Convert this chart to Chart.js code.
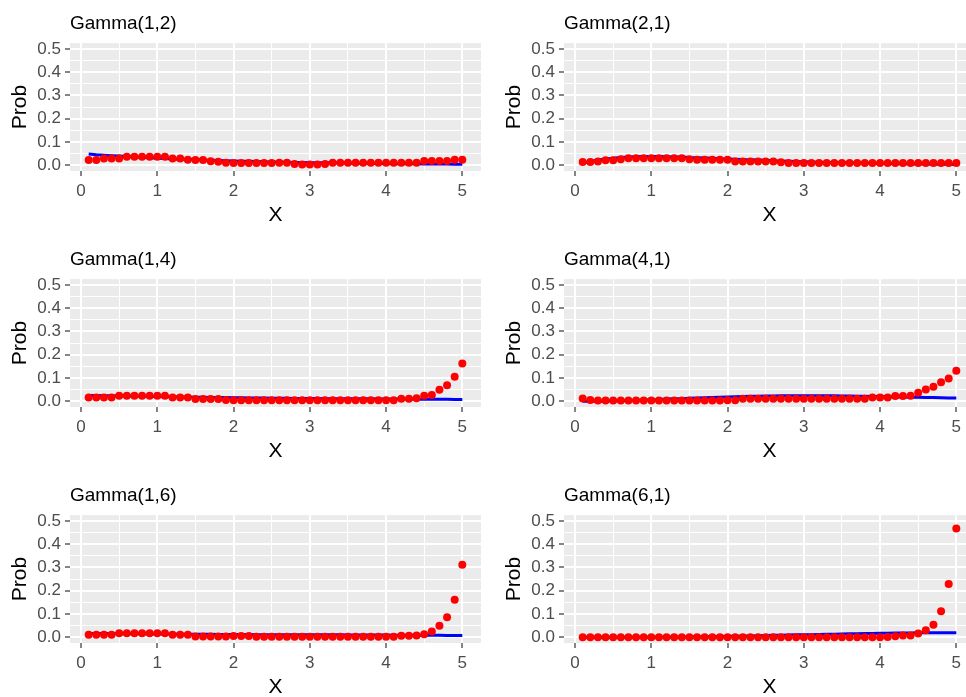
<!DOCTYPE html>
<html>
<head>
<meta charset="utf-8">
<script src="https://cdn.jsdelivr.net/npm/chart.js@4.4.1/dist/chart.umd.min.js"></script>
<style>
html, body { margin: 0; padding: 0; background: #fff; width: 966px; height: 697px; overflow: hidden; }
canvas { position: absolute; }
</style>
</head>
<body>
<canvas id="p1" width="485" height="236" style="left:0px;top:0px"></canvas>
<canvas id="p2" width="485" height="236" style="left:494px;top:0px"></canvas>
<canvas id="p3" width="485" height="236" style="left:0px;top:236px"></canvas>
<canvas id="p4" width="485" height="236" style="left:494px;top:236px"></canvas>
<canvas id="p5" width="485" height="236" style="left:0px;top:472px"></canvas>
<canvas id="p6" width="485" height="236" style="left:494px;top:472px"></canvas>
<script>
// x positions of the estimates
const xValues = [0.1, 0.2, 0.3, 0.4, 0.5, 0.6, 0.7, 0.8, 0.9, 1.0,
                 1.1, 1.2, 1.3, 1.4, 1.5, 1.6, 1.7, 1.8, 1.9, 2.0,
                 2.1, 2.2, 2.3, 2.4, 2.5, 2.6, 2.7, 2.8, 2.9, 3.0,
                 3.1, 3.2, 3.3, 3.4, 3.5, 3.6, 3.7, 3.8, 3.9, 4.0,
                 4.1, 4.2, 4.3, 4.4, 4.5, 4.6, 4.7, 4.8, 4.9, 5.0];

const xTicks = [0, 0.5, 1, 1.5, 2, 2.5, 3, 3.5, 4, 4.5, 5];
const yTicks = [0, 0.05, 0.1, 0.15, 0.2, 0.25, 0.3, 0.35, 0.4, 0.45, 0.5];

const titles = ['Gamma(1,2)', 'Gamma(2,1)', 'Gamma(1,4)', 'Gamma(4,1)', 'Gamma(1,6)', 'Gamma(6,1)'];

// red points
const probG12 = [0.022, 0.022, 0.029, 0.029, 0.029, 0.036, 0.036, 0.036, 0.036, 0.036,
                 0.036, 0.029, 0.029, 0.023, 0.022, 0.022, 0.017, 0.015, 0.010, 0.009,
                 0.009, 0.009, 0.009, 0.009, 0.009, 0.010, 0.010, 0.005, 0.003, 0.003,
                 0.003, 0.005, 0.011, 0.011, 0.011, 0.011, 0.011, 0.011, 0.011, 0.011,
                 0.011, 0.011, 0.011, 0.011, 0.018, 0.018, 0.018, 0.018, 0.023, 0.023];
const probG21 = [0.014, 0.014, 0.016, 0.021, 0.021, 0.026, 0.030, 0.030, 0.030, 0.030,
                 0.030, 0.030, 0.030, 0.030, 0.026, 0.023, 0.023, 0.023, 0.023, 0.023,
                 0.016, 0.016, 0.016, 0.016, 0.016, 0.016, 0.013, 0.009, 0.009, 0.009,
                 0.009, 0.009, 0.009, 0.009, 0.009, 0.009, 0.009, 0.009, 0.009, 0.009,
                 0.009, 0.009, 0.009, 0.009, 0.009, 0.009, 0.009, 0.009, 0.009, 0.009];
const probG14 = [0.016, 0.016, 0.016, 0.016, 0.023, 0.023, 0.023, 0.023, 0.023, 0.023,
                 0.023, 0.016, 0.016, 0.016, 0.009, 0.009, 0.009, 0.009, 0.005, 0.004,
                 0.004, 0.004, 0.004, 0.004, 0.004, 0.004, 0.004, 0.004, 0.004, 0.004,
                 0.004, 0.004, 0.004, 0.004, 0.004, 0.004, 0.004, 0.004, 0.004, 0.004,
                 0.004, 0.010, 0.011, 0.013, 0.023, 0.027, 0.049, 0.069, 0.105, 0.162];
const probG41 = [0.012, 0.005, 0.003, 0.003, 0.003, 0.003, 0.003, 0.003, 0.003, 0.003,
                 0.003, 0.003, 0.003, 0.003, 0.003, 0.003, 0.003, 0.003, 0.003, 0.004,
                 0.004, 0.010, 0.010, 0.010, 0.010, 0.010, 0.010, 0.010, 0.010, 0.010,
                 0.010, 0.010, 0.010, 0.010, 0.010, 0.010, 0.010, 0.010, 0.016, 0.016,
                 0.016, 0.022, 0.022, 0.023, 0.036, 0.050, 0.062, 0.081, 0.098, 0.131];
const probG16 = [0.010, 0.010, 0.010, 0.010, 0.017, 0.017, 0.017, 0.017, 0.017, 0.017,
                 0.017, 0.010, 0.010, 0.010, 0.003, 0.003, 0.003, 0.003, 0.003, 0.005,
                 0.005, 0.005, 0.002, 0.002, 0.002, 0.002, 0.002, 0.002, 0.002, 0.002,
                 0.002, 0.002, 0.002, 0.002, 0.002, 0.002, 0.002, 0.002, 0.002, 0.002,
                 0.002, 0.006, 0.006, 0.007, 0.013, 0.024, 0.049, 0.086, 0.161, 0.312];
const probG61 = [0.000, 0.000, 0.000, 0.000, 0.000, 0.000, 0.000, 0.000, 0.000, 0.000,
                 0.000, 0.000, 0.000, 0.000, 0.000, 0.000, 0.000, 0.000, 0.000, 0.000,
                 0.000, 0.000, 0.000, 0.000, 0.000, 0.000, 0.000, 0.000, 0.000, 0.000,
                 0.000, 0.000, 0.000, 0.000, 0.000, 0.000, 0.000, 0.000, 0.000, 0.000,
                 0.001, 0.004, 0.007, 0.007, 0.016, 0.030, 0.054, 0.111, 0.229, 0.467];

// blue lines
const trueG12 = [0.048, 0.045, 0.043, 0.041, 0.039, 0.037, 0.035, 0.034, 0.032, 0.030,
                 0.029, 0.027, 0.026, 0.025, 0.024, 0.022, 0.021, 0.020, 0.019, 0.018,
                 0.017, 0.017, 0.016, 0.015, 0.014, 0.014, 0.013, 0.012, 0.012, 0.011,
                 0.011, 0.010, 0.010, 0.009, 0.009, 0.008, 0.008, 0.007, 0.007, 0.007,
                 0.006, 0.006, 0.006, 0.006, 0.005, 0.005, 0.005, 0.005, 0.004, 0.004];
const trueG21 = [0.009, 0.016, 0.022, 0.027, 0.030, 0.033, 0.035, 0.036, 0.037, 0.037,
                 0.037, 0.036, 0.035, 0.035, 0.033, 0.032, 0.031, 0.030, 0.028, 0.027,
                 0.026, 0.024, 0.023, 0.022, 0.021, 0.019, 0.018, 0.017, 0.016, 0.015,
                 0.014, 0.013, 0.012, 0.011, 0.011, 0.010, 0.009, 0.009, 0.008, 0.007,
                 0.007, 0.006, 0.006, 0.005, 0.005, 0.005, 0.004, 0.004, 0.004, 0.003];
const trueG14 = [0.024, 0.024, 0.023, 0.023, 0.022, 0.022, 0.021, 0.021, 0.020, 0.020,
                 0.019, 0.019, 0.018, 0.018, 0.017, 0.017, 0.016, 0.016, 0.016, 0.015,
                 0.015, 0.014, 0.014, 0.014, 0.013, 0.013, 0.013, 0.012, 0.012, 0.012,
                 0.012, 0.011, 0.011, 0.011, 0.010, 0.010, 0.010, 0.010, 0.009, 0.009,
                 0.009, 0.009, 0.009, 0.008, 0.008, 0.008, 0.008, 0.008, 0.007, 0.007];
const trueG41 = [0.000, 0.000, 0.000, 0.001, 0.001, 0.002, 0.003, 0.004, 0.005, 0.006,
                 0.007, 0.009, 0.010, 0.011, 0.013, 0.014, 0.015, 0.016, 0.017, 0.018,
                 0.019, 0.020, 0.021, 0.021, 0.022, 0.022, 0.023, 0.023, 0.023, 0.023,
                 0.023, 0.023, 0.023, 0.023, 0.022, 0.022, 0.021, 0.021, 0.020, 0.020,
                 0.019, 0.018, 0.018, 0.017, 0.017, 0.016, 0.016, 0.015, 0.014, 0.014];
const trueG16 = [0.016, 0.016, 0.016, 0.016, 0.015, 0.015, 0.015, 0.015, 0.014, 0.014,
                 0.014, 0.014, 0.013, 0.013, 0.013, 0.013, 0.013, 0.012, 0.012, 0.012,
                 0.012, 0.012, 0.011, 0.011, 0.011, 0.011, 0.011, 0.011, 0.010, 0.010,
                 0.010, 0.010, 0.010, 0.010, 0.009, 0.009, 0.009, 0.009, 0.009, 0.009,
                 0.008, 0.008, 0.008, 0.008, 0.008, 0.008, 0.008, 0.007, 0.007, 0.007];
const trueG61 = [0.000, 0.000, 0.000, 0.000, 0.000, 0.000, 0.000, 0.000, 0.000, 0.000,
                 0.000, 0.001, 0.001, 0.001, 0.001, 0.002, 0.002, 0.002, 0.003, 0.004,
                 0.004, 0.005, 0.005, 0.006, 0.007, 0.008, 0.008, 0.009, 0.010, 0.011,
                 0.011, 0.012, 0.013, 0.013, 0.014, 0.015, 0.015, 0.016, 0.016, 0.017,
                 0.017, 0.018, 0.018, 0.018, 0.019, 0.019, 0.019, 0.019, 0.019, 0.019];

const fontFamily = "'Liberation Sans', Arial, Helvetica, sans-serif";

// grey panel behind the grid
const panelBg = {
    id: 'panelBg',
    beforeDraw(chart) {
        const {ctx, chartArea} = chart;
        ctx.save();
        ctx.fillStyle = '#EBEBEB';
        ctx.fillRect(chartArea.left, chartArea.top, chartArea.right - chartArea.left, chartArea.bottom - chartArea.top);
        ctx.restore();
    }
};

function toPoints(ys) {
    return xValues.map((x, i) => ({x: x, y: ys[i]}));
}

function gridWidth(ctx) {
    return ctx.index % 2 === 0 ? 2 : 1;
}

function tickColor(ctx) {
    return ctx.index % 2 === 0 ? '#333333' : 'rgba(0,0,0,0)';
}

function makePanel(id, title, probs, truth) {
    return new Chart(document.getElementById(id), {
        type: 'scatter',
        data: {
            datasets: [
                {
                    data: toPoints(truth),
                    showLine: true,
                    borderColor: '#0000FF',
                    borderWidth: 3,
                    pointRadius: 0,
                    fill: false,
                    order: 2
                },
                {
                    data: toPoints(probs),
                    backgroundColor: '#FF0000',
                    borderWidth: 0,
                    pointRadius: 4,
                    order: 1
                }
            ]
        },
        options: {
            responsive: false,
            animation: false,
            events: [],
            layout: { padding: { left: 0, right: 1, top: 0, bottom: 0 } },
            plugins: {
                legend: { display: false },
                tooltip: { enabled: false },
                title: {
                    display: true,
                    text: title,
                    align: 'start',
                    fullSize: false,
                    color: '#000000',
                    font: { family: fontFamily, size: 19, weight: 'normal' },
                    padding: { top: 12, bottom: 8.3 }
                }
            },
            scales: {
                x: {
                    type: 'linear',
                    min: -0.145,
                    max: 5.245,
                    afterBuildTicks: axis => { axis.ticks = xTicks.map(v => ({value: v})); },
                    afterFit: axis => { axis.height = 65; },
                    border: { display: false },
                    grid: {
                        color: '#FFFFFF',
                        lineWidth: gridWidth,
                        tickColor: tickColor,
                        tickWidth: 1.2,
                        tickLength: 5
                    },
                    ticks: {
                        autoSkip: false,
                        maxRotation: 0,
                        padding: 5,
                        color: '#4D4D4D',
                        font: { family: fontFamily, size: 17 },
                        callback: (v, i) => i % 2 === 0 ? String(v) : ''
                    },
                    title: {
                        display: true,
                        text: 'X',
                        color: '#000000',
                        font: { family: fontFamily, size: 21 },
                        padding: { top: 0, bottom: 8.4 }
                    }
                },
                y: {
                    type: 'linear',
                    min: -0.025,
                    max: 0.525,
                    afterBuildTicks: axis => { axis.ticks = yTicks.map(v => ({value: v})); },
                    afterFit: axis => { axis.width = 70; },
                    border: { display: false },
                    grid: {
                        color: '#FFFFFF',
                        lineWidth: gridWidth,
                        tickColor: tickColor,
                        tickWidth: 1.2,
                        tickLength: 5
                    },
                    ticks: {
                        autoSkip: false,
                        padding: 4,
                        color: '#4D4D4D',
                        font: { family: fontFamily, size: 17 },
                        callback: (v, i) => i % 2 === 0 ? v.toFixed(1) : ''
                    },
                    title: {
                        display: true,
                        text: 'Prob',
                        color: '#000000',
                        font: { family: fontFamily, size: 21 },
                        padding: { top: 7.4, bottom: 0 }
                    }
                }
            }
        },
        plugins: [panelBg]
    });
}

makePanel('p1', titles[0], probG12, trueG12);
makePanel('p2', titles[1], probG21, trueG21);
makePanel('p3', titles[2], probG14, trueG14);
makePanel('p4', titles[3], probG41, trueG41);
makePanel('p5', titles[4], probG16, trueG16);
makePanel('p6', titles[5], probG61, trueG61);
</script>
</body>
</html>
